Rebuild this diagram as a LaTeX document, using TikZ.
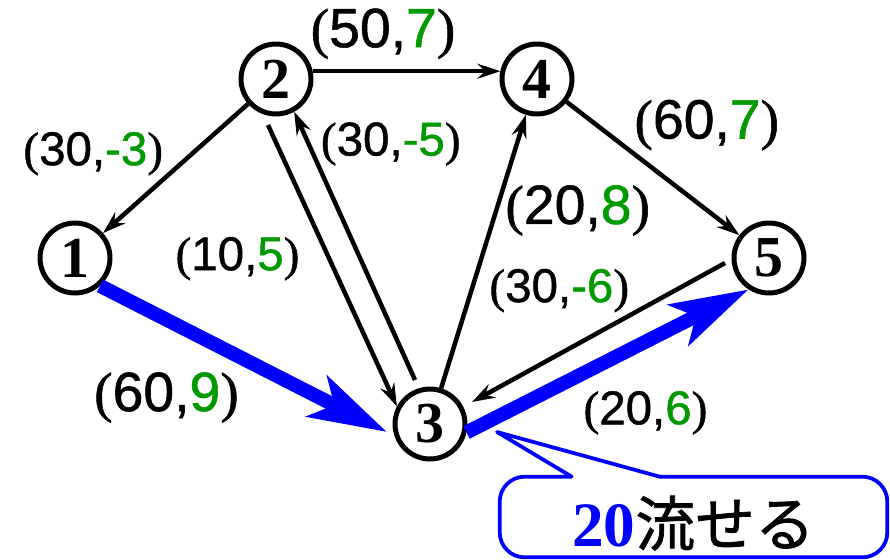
\documentclass[tikz,border=0pt]{standalone}
\usepackage{fontspec}
\setmainfont{Liberation Serif}
\setsansfont{Liberation Sans}
\newfontfamily\labelfont{Liberation Sans}[FakeBold=1]
\newfontfamily\parenfont{Liberation Serif}[FakeBold=1]
\newfontfamily\jpfont{Noto Sans CJK JP}[FakeBold=1.2]
\usetikzlibrary{arrows.meta,positioning}
\definecolor{costgreen}{RGB}{0,153,0}
\newcommand{\pair}[2]{{\parenfont(}#1,\textcolor{costgreen}{#2}{\parenfont)}}
\begin{document}
\begin{tikzpicture}[x=0.02cm,y=-0.02cm]
\tikzstyle{vertex}=[circle,draw,line width=1mm,minimum size=14mm,inner sep=0pt,font=\fontsize{33}{33}\selectfont\bfseries]
\tikzstyle{arrow}=[-{Stealth[length=4.6mm,width=3mm,inset=1.6mm]},line width=0.9mm]
\tikzstyle{flow}=[-{Stealth[length=15.6mm,width=9mm,inset=3.8mm]},line width=2.8mm,blue]
\tikzstyle{edgelabel}=[text=black,font=\labelfont\fontsize{27}{27}\selectfont,inner sep=0pt]
\tikzstyle{biglabel}=[text=black,font=\labelfont\fontsize{31.5}{31.5}\selectfont,inner sep=0pt]
\tikzstyle{callout}=[draw=blue,line width=0.75mm,line join=round,line cap=round]
\useasboundingbox (0,0) rectangle (890,559);
\node (n1) [vertex] at (75,258) {1};
\node (n2) [vertex] at (276,79) {2};
\node (n3) [vertex] at (430,424) {3};
\node (n4) [vertex] at (537,79) {4};
\node (n5) [vertex] at (769,258) {5};
\draw [arrow] (n2) -- node [edgelabel,pos=.57,above left] {\pair{30}{-3}} (n1);
\draw [arrow] (n2.12) -- node [biglabel,pos=.375,above=2mm] {\pair{50}{7}} (n4.168);
\draw [arrow] ([shift={(-8,46)}]n2.center) -- node [edgelabel,pos=.475,left=5.5mm] {\pair{10}{5}} (n3.152);
\draw [arrow] ([shift={(-15,-44)}]n3.center) -- node [edgelabel,pos=.88,right=2mm] {\pair{30}{-5}} (n2.-61);
\draw [arrow] (n3) -- node [biglabel,pos=.65,right=1.4mm] {\pair{20}{8}} (n4);
\draw [arrow] (n4) -- node [biglabel,pos=.38,above right] {\pair{60}{7}} (n5);
\draw [arrow] ([shift={(-44,5)}]n5.center) -- node [edgelabel,pos=.37,above left] {\pair{30}{-6}} ([shift={(42,-22)}]n3.center);
\draw [flow] (n1.-48) -- node [biglabel,pos=.52,below left=1mm] {\pair{60}{9}} ([shift={(-43,8)}]n3.center);
\draw [flow] (n3.-13) -- node [edgelabel,pos=.39,anchor=north west,yshift=-1.5mm] {\pair{20}{6}} (n5.237);
% callout
\node (note) [minimum width=77.4mm,minimum height=16mm,text height=13.8mm,text depth=2.2mm,inner sep=0pt] at (693.5,517) {\textcolor{blue}{\fontsize{36}{36}\selectfont\bfseries 20}{\jpfont\fontsize{34}{34}\selectfont 流せる}};
\coordinate (tip) at (497,432);
\draw [callout] ([xshift=14.4mm]note.north west) -- (tip) -- ([xshift=32mm]note.north west) [rounded corners=5mm] -- (note.north east) -- (note.south east) -- (note.south west) -- (note.north west) -- ([xshift=14.4mm]note.north west);
\end{tikzpicture}
\end{document}
